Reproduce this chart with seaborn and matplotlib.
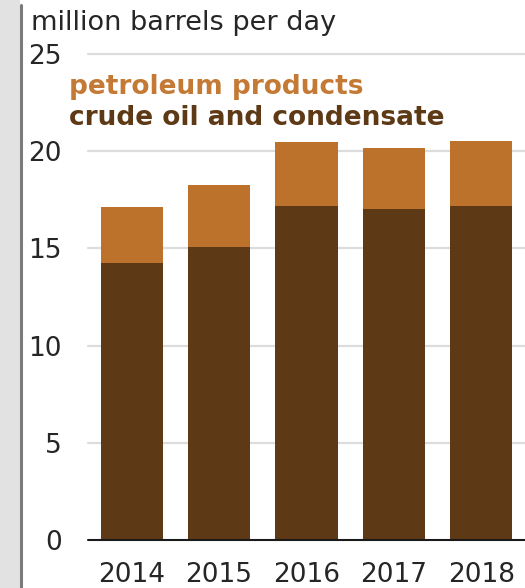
import matplotlib
matplotlib.use("Agg")
import matplotlib.pyplot as plt
import seaborn as sns
import pandas as pd
from matplotlib.patches import Rectangle
from matplotlib.lines import Line2D

years = ["2014", "2015", "2016", "2017", "2018"]
crude = [14.23, 15.09, 17.18, 17.04, 17.18]
products = [2.88, 3.17, 3.28, 3.11, 3.36]
yticks = [0, 5, 10, 15, 20, 25]
unit_label = "million barrels per day"
series_labels = ["petroleum products", "crude oil and condensate"]

total = [c + p for c, p in zip(crude, products)]
df = pd.DataFrame({"year": years, "crude": crude, "total": total})

CRUDE = "#5E3915"
PROD = "#BD722C"

sns.set_theme(style="white")
plt.rcParams["font.family"] = ["DejaVu Sans"]

W, H = 525, 588
fig = plt.figure(figsize=(W / 100, H / 100), dpi=100)

# left decorative strip and rule
fig.patches.append(Rectangle((0, 0), 20 / W, 1, transform=fig.transFigure,
                             facecolor="#e2e2e2", edgecolor="none", zorder=0))
fig.lines.append(Line2D([21 / W, 21 / W], [0, 1 - 5 / H], transform=fig.transFigure,
                        color="#7a7a7a", lw=2.2, zorder=1))

y0, y25 = 540, 54
ax = fig.add_axes([88 / W, (H - y0) / H, (W - 88) / W, (y0 - y25) / H])

sns.barplot(data=df, x="year", y="total", color=PROD, saturation=1, width=0.71,
            linewidth=0, edgecolor="none", ax=ax, zorder=3)
sns.barplot(data=df, x="year", y="crude", color=CRUDE, saturation=1, width=0.71,
            linewidth=0, edgecolor="none", ax=ax, zorder=4)

ax.set_xlim(-0.5, 4.5)
ax.set_ylim(0, 25)
ax.set_yticks(yticks)
ax.set_yticklabels([str(t) for t in yticks])
ax.set_xlabel("")
ax.set_ylabel("")
for s in ax.spines.values():
    s.set_visible(False)

for t in yticks[1:]:
    ax.axhline(t, color="#dcdcdc", lw=1.6, zorder=1, clip_on=False)
ax.axhline(0, color="#1a1a1a", lw=1.5, zorder=6, clip_on=False)

ax.tick_params(axis="y", length=0, pad=19, labelsize=19, labelcolor="#262626")
ax.tick_params(axis="x", length=0, pad=16, labelsize=19, labelcolor="#262626")

fig.text(31 / W, 1 - 30 / H, unit_label, fontsize=19.5, color="#262626",
         va="baseline", ha="left")
fig.text(69 / W, 1 - 94 / H, series_labels[0], fontsize=19, fontweight="bold",
         color="#C47A35", va="baseline", ha="left")
fig.text(69 / W, 1 - 125 / H, series_labels[1], fontsize=19, fontweight="bold",
         color=CRUDE, va="baseline", ha="left")

fig.savefig("out.png", dpi=100)
